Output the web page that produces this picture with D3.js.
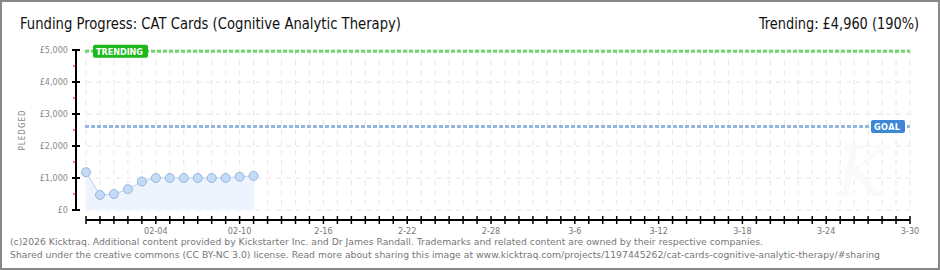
<!DOCTYPE html>
<html>
<head>
<meta charset="utf-8">
<script src="https://cdn.jsdelivr.net/npm/d3@7"></script>
<style>
  html, body { margin: 0; padding: 0; background: #fff; }
  svg { display: block; }
</style>
</head>
<body>
<div id="chart"></div>
<script>
// pledge data
var dates = ['2026-01-30', '2026-01-31', '2026-02-01', '2026-02-02', '2026-02-03', '2026-02-04',
  '2026-02-05', '2026-02-06', '2026-02-07', '2026-02-08', '2026-02-09', '2026-02-10', '2026-02-11'];
var pledged = [1180, 470, 500, 650, 890, 1000, 1000, 1000, 1000, 1000, 1000, 1040, 1065];
var goal = 2610;
var trending = 4960;
var yTicks = [0, 1000, 2000, 3000, 4000, 5000];
var yMinor = [500, 1500, 2500, 3500, 4500];
var xLabelDates = ['2026-02-04', '2026-02-10', '2026-02-16', '2026-02-22', '2026-02-28',
  '2026-03-06', '2026-03-12', '2026-03-18', '2026-03-24', '2026-03-30'];
var xLabels = ['02-04', '02-10', '2-16', '2-22', '2-28', '3-6', '3-12', '3-18', '3-24', '3-30'];
var startDate = '2026-01-30';
var endDate = '2026-03-30';

var W = 940, H = 270;
var parse = d3.utcParse('%Y-%m-%d');

var svg = d3.select('#chart').append('svg')
  .attr('width', W)
  .attr('height', H);

// frame
svg.append('rect')
  .attr('x', 1).attr('y', 1)
  .attr('width', W - 2).attr('height', H - 2)
  .attr('fill', '#fff')
  .attr('stroke', '#888')
  .attr('stroke-width', 2);

var x = d3.scaleUtc()
  .domain([parse(startDate), parse(endDate)])
  .range([86, 910]);
var y = d3.scaleLinear()
  .domain([0, 5000])
  .range([210, 50]);

var days = d3.utcDay.range(parse(startDate), d3.utcDay.offset(parse(endDate), 1));

// grid
svg.append('g').selectAll('line')
  .data(days)
  .enter().append('line')
  .attr('x1', function(d) { return x(d); })
  .attr('x2', function(d) { return x(d); })
  .attr('y1', y(5000))
  .attr('y2', y(0))
  .attr('stroke', '#e6e6e6')
  .attr('stroke-dasharray', '5,5');

svg.append('g').selectAll('line')
  .data(yTicks)
  .enter().append('line')
  .attr('x1', x.range()[0])
  .attr('x2', x.range()[1])
  .attr('y1', function(d) { return y(d); })
  .attr('y2', function(d) { return y(d); })
  .attr('stroke', '#e6e6e6')
  .attr('stroke-dasharray', '5,5');

// faint watermark
svg.append('text')
  .attr('x', 862).attr('y', 196)
  .attr('text-anchor', 'middle')
  .attr('font-family', 'DejaVu Serif')
  .attr('font-style', 'italic')
  .attr('font-size', 70)
  .attr('fill', '#fafafa')
  .text('K');

// area + line
var pts = dates.map(function(d, i) { return { date: parse(d), v: pledged[i] }; });

svg.append('path')
  .datum(pts)
  .attr('d', d3.area()
    .x(function(d) { return x(d.date); })
    .y0(y(0))
    .y1(function(d) { return y(d.v); }))
  .attr('fill', '#edf4fd');

svg.append('path')
  .datum(pts)
  .attr('d', d3.line()
    .x(function(d) { return x(d.date); })
    .y(function(d) { return y(d.v); }))
  .attr('fill', 'none')
  .attr('stroke', '#b9d3f2')
  .attr('stroke-width', 1);

// trending + goal lines
svg.append('line')
  .attr('x1', x.range()[0] - 1).attr('x2', x.range()[1])
  .attr('y1', y(trending)).attr('y2', y(trending))
  .attr('stroke', '#6fd66f')
  .attr('stroke-width', 3)
  .attr('stroke-dasharray', '4,2');

svg.append('line')
  .attr('x1', x.range()[0] - 1).attr('x2', x.range()[1])
  .attr('y1', y(goal)).attr('y2', y(goal))
  .attr('stroke', '#94b6e0')
  .attr('stroke-width', 3)
  .attr('stroke-dasharray', '4,2');

// points
svg.append('g').selectAll('circle')
  .data(pts)
  .enter().append('circle')
  .attr('cx', function(d) { return x(d.date); })
  .attr('cy', function(d) { return y(d.v); })
  .attr('r', 4.5)
  .attr('fill', '#c3dbf6')
  .attr('stroke', '#97b6dc')
  .attr('stroke-width', 1);

// badges
function badge(cx, cy, w, label, fill) {
  svg.append('rect')
    .attr('x', cx).attr('y', cy - 6.5)
    .attr('width', w).attr('height', 13)
    .attr('rx', 2)
    .attr('fill', fill);
  svg.append('text')
    .attr('x', cx + 3).attr('y', cy + 3.5)
    .attr('font-family', 'DejaVu Sans Condensed')
    .attr('font-weight', 'bold')
    .attr('font-size', 9)
    .attr('textLength', w - 8)
    .attr('lengthAdjust', 'spacing')
    .attr('fill', '#fff')
    .text(label);
}
badge(93, y(trending), 55, 'TRENDING', '#1cb91c');
badge(871, y(goal), 34, 'GOAL', '#3c87d6');

// y axis
var yAxis = svg.append('g');
yAxis.append('line')
  .attr('x1', 76).attr('x2', 76)
  .attr('y1', y(5000)).attr('y2', y(0))
  .attr('stroke', '#000').attr('stroke-width', 2);
yAxis.selectAll('.major')
  .data(yTicks)
  .enter().append('line')
  .attr('x1', 72).attr('x2', 80)
  .attr('y1', function(d) { return y(d); })
  .attr('y2', function(d) { return y(d); })
  .attr('stroke', '#000').attr('stroke-width', 2);
yAxis.selectAll('.minor')
  .data(yMinor)
  .enter().append('line')
  .attr('x1', 73).attr('x2', 76)
  .attr('y1', function(d) { return y(d); })
  .attr('y2', function(d) { return y(d); })
  .attr('stroke', '#e00000').attr('stroke-width', 1);
yAxis.selectAll('text')
  .data(yTicks)
  .enter().append('text')
  .attr('x', 68)
  .attr('y', function(d) { return y(d) + 3; })
  .attr('text-anchor', 'end')
  .attr('font-family', 'DejaVu Sans Condensed')
  .attr('font-size', 9)
  .attr('fill', '#888')
  .text(function(d) { return '£' + d3.format(',')(d); });

svg.append('text')
  .attr('transform', 'translate(25,130) rotate(-90)')
  .attr('text-anchor', 'middle')
  .attr('font-family', 'DejaVu Sans Condensed')
  .attr('font-size', 8)
  .attr('letter-spacing', 1)
  .attr('fill', '#888')
  .text('PLEDGED');

// x axis
var xAxis = svg.append('g');
xAxis.append('line')
  .attr('x1', x.range()[0]).attr('x2', x.range()[1])
  .attr('y1', 220).attr('y2', 220)
  .attr('stroke', '#000').attr('stroke-width', 2);
xAxis.selectAll('.tk')
  .data(days)
  .enter().append('line')
  .attr('x1', function(d) { return x(d); })
  .attr('x2', function(d) { return x(d); })
  .attr('y1', 216).attr('y2', 224)
  .attr('stroke', '#000').attr('stroke-width', 1.5);
xAxis.selectAll('text')
  .data(xLabelDates)
  .enter().append('text')
  .attr('x', function(d) { return x(parse(d)); })
  .attr('y', 234)
  .attr('text-anchor', 'middle')
  .attr('font-family', 'DejaVu Sans Condensed')
  .attr('font-size', 9)
  .attr('fill', '#777')
  .text(function(d, i) { return xLabels[i]; });

// titles
svg.append('text')
  .attr('x', 20).attr('y', 29)
  .attr('font-family', 'DejaVu Sans Condensed')
  .attr('font-size', 15)
  .attr('textLength', 381)
  .attr('lengthAdjust', 'spacingAndGlyphs')
  .attr('fill', '#111')
  .text('Funding Progress: CAT Cards (Cognitive Analytic Therapy)');

svg.append('text')
  .attr('x', 759).attr('y', 29)
  .attr('font-family', 'DejaVu Sans Condensed')
  .attr('font-size', 15)
  .attr('textLength', 160)
  .attr('lengthAdjust', 'spacingAndGlyphs')
  .attr('fill', '#111')
  .text('Trending: £4,960 (190%)');

// footer
var foot = [
  '(c)2026 Kicktraq. Additional content provided by Kickstarter Inc. and Dr James Randall. Trademarks and related content are owned by their respective companies.',
  'Shared under the creative commons (CC BY-NC 3.0) license. Read more about sharing this image at www.kicktraq.com/projects/1197445262/cat-cards-cognitive-analytic-therapy/#sharing'
];
var footW = [753, 870];
svg.selectAll('.foot')
  .data(foot)
  .enter().append('text')
  .attr('x', 10)
  .attr('y', function(d, i) { return 245 + i * 12.5; })
  .attr('font-family', 'DejaVu Sans')
  .attr('font-size', 9.5)
  .attr('textLength', function(d, i) { return footW[i]; })
  .attr('lengthAdjust', 'spacingAndGlyphs')
  .attr('fill', '#777')
  .text(function(d) { return d; });
</script>
</body>
</html>
